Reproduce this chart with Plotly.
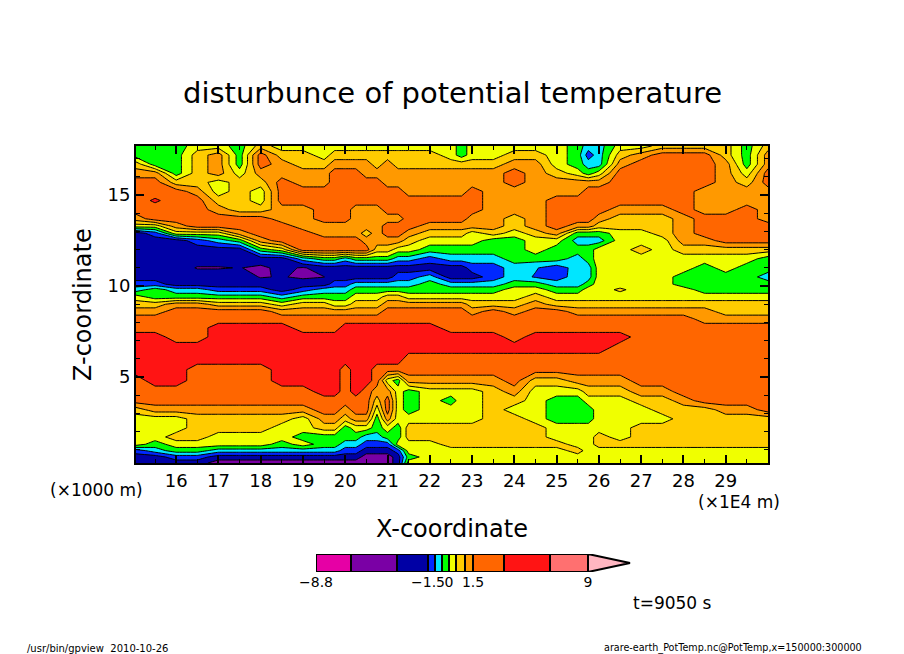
import numpy as np
import plotly.graph_objects as go

# grid: x in 1E4 m, heights in km (top to bottom)
x_nodes = [15.05, 15.5, 16, 16.5, 17, 17.5, 18, 18.5, 19, 19.5, 19.75, 20, 20.25, 20.5, 20.75, 21, 21.25, 21.5,
           22, 22.5, 22.75, 23, 23.5, 24, 24.5, 25, 25.5, 25.75, 26, 26.5, 27, 27.5, 28, 28.5, 29, 29.5, 30]
z_nodes = [17.7, 17.2, 16.7, 16.2, 15.7, 15.2, 14.7, 14.2, 13.7, 13.3,
           12.9, 12.5, 12.0, 11.5, 11.0, 10.5, 10.1, 9.8, 9.4, 9.0,
           8.6, 8.2, 7.7, 7.2, 6.6, 6.0, 5.4, 4.8, 4.2, 3.7,
           3.2, 2.7, 2.2, 1.7, 1.3, 0.95, 0.6, 0.27]

# disturbance of potential temperature (K), one list per x node
col_1505 = [-.25,-.25,.75,1.25,2.25,2.25,2.25,2.25,1.25,.25, -2.25,-2.25,-2.25,-2.25,-2.25,-2.25,-1.25,-.75,.25,.75, 1.25,2.25,2.25,4.5,4.5,4.5,4.5,2.25,2.25,2.25, .75,.25,.25,.25,.25,-1.25,-2.25,-2.25]
col_155 = [-.25,-.25,-.25,1.25,2.25,2.25,3.5,2.25,2.25,.25, -1.25,-2.25,-2.25,-2.25,-2.25,-2.25,-1.25,-.25,-.25,.75, 1.25,2.25,2.25,4.5,4.5,4.5,4.5,4.5,2.25,2.25, 1.25,.25,.25,.25,-.25,-.75,-2.25,-2.25]
col_16 = [-.25,-.25,-.25,-.25,.75,2.25,2.25,2.25,2.25,1.25, .25,-2.25,-2.25,-2.25,-2.25,-2.25,-2.25,-.75,-.25,1.25, 2.25,2.25,2.25,2.25,4.5,4.5,4.5,4.5,2.25,2.25, 1.25,.25,.25,.75,.25,-.25,-1.25,-2.25]
col_165 = [.25,.75,.75,.75,.75,1.25,2.25,2.25,2.25,2.25, .25,-1.25,-2.25,-2.25,-3.2,-2.25,-2.25,-.75,-.25,1.25, 2.25,2.25,2.25,2.25,4.5,4.5,2.25,2.25,2.25,2.25, 1.25,.75,.75,.75,.25,-.25,-1.25,-2.25]
col_17 = [.25,1.25,1.25,1.25,.25,.25,.75,1.25,2.25,2.25, .25,-.75,-2.25,-2.25,-3.2,-2.25,-2.25,-1.25,-.25,.75, 2.25,2.25,4.5,4.5,4.5,4.5,2.25,2.25,2.25,2.25, 1.25,.75,.75,.25,.25,-.75,-2.25,-4.5]
col_175 = [-.25,-.25,-.25,.25,.75,.75,.75,.75,2.25,2.25, 1.25,-.25,-2.25,-2.25,-2.95,-2.25,-2.25,-1.25,-.25,.75, 2.25,2.25,4.5,4.5,4.5,4.5,2.25,2.25,2.25,2.25, 1.25,.75,.75,.25,.25,-.75,-2.25,-4.5]
col_18 = [.75,2.25,2.25,1.25,.75,.25,.25,.75,2.25,2.25, 2.25,1.25,-.25,-2.25,-3.6,-3.2,-2.25,-1.25,-.25,.75, 2.25,2.25,4.5,4.5,4.5,4.5,2.25,2.25,2.25,2.25, 1.25,.75,.75,.25,.25,-.75,-2.25,-4.5]
col_185 = [.25,.75,1.25,1.25,2.25,2.25,2.25,1.25,1.25,2.25, 2.25,2.25,.25,-2.25,-2.6,-2.9,-2.25,-2.25,-.75,.25, 1.25,2.25,4.5,4.5,4.5,4.5,4.5,4.5,2.25,2.25, 1.25,.75,.25,.25,-.25,-.75,-2.25,-4.5]
col_19 = [.25,.75,.75,1.25,1.25,2.25,2.25,1.25,1.25,1.25, 2.25,2.25,2.25,-.75,-3.3,-3.5,-2.25,-1.25,-.25,.75, 1.25,2.25,2.25,4.5,4.5,4.5,4.5,4.5,2.25,2.25, 1.25,.25,.25,-.25,.25,-.75,-2.25,-4.5]
col_195 = [.25,.25,.75,1.25,1.25,2.25,2.25,2.25,2.25,1.25, 1.25,2.25,2.25,-.25,-2.25,-3.05,-2.25,-.75,-.25,.75, 1.25,2.25,2.25,4.5,4.5,4.5,4.5,4.5,4.5,2.25, 2.25,1.25,.75,-.25,-.25,-.75,-2.25,-4.5]
col_1975 = [.25,.75,1.25,2.25,2.25,2.25,2.25,2.25,2.25,1.25, 1.25,2.25,2.25,-.25,-2.25,-2.25,-1.25,-.75,-.25,.25, 1.25,2.25,2.25,4.5,4.5,4.5,4.5,4.5,4.5,2.25, 2.25,1.25,.75,-.25,-.25,-.75,-2.25,-4.5]
col_20 = [.25,.75,1.25,2.25,2.25,2.25,2.25,2.25,2.25,1.25, 1.25,2.25,2.25,-.75,-2.25,-2.25,-1.25,-.75,-.25,.25, 1.25,2.25,4.5,4.5,4.5,4.5,2.25,2.25,2.25,2.25, 1.25,.75,-.25,-.25,-.75,-1.25,-2.25,-4.5]
col_2025 = [.25,.75,1.25,2.25,2.25,2.25,2.25,1.25,1.25,1.25, 1.25,2.25,2.25,-.25,-2.25,-2.25,-.75,-.25,.25,.75, 1.25,2.25,4.5,4.5,4.5,4.5,4.5,4.5,4.5,2.25, 2.25,1.25,.25,-.25,-.75,-1.25,-2.25,-4.5]
col_205 = [.25,.75,1.25,1.25,2.25,2.25,2.25,1.25,1.25,1.25, .75,1.25,2.25,-.25,-2.25,-2.25,-.75,-.25,.25,.75, 1.25,2.25,4.5,4.5,4.5,4.5,4.5,4.5,2.25,2.25, 2.25,1.25,.25,-.75,-1.25,-2.25,-4.5,-4.5]
col_2075 = [.25,.75,.75,1.25,2.25,2.25,2.25,1.25,1.25,1.25, 1.25,1.25,.75,-.25,-2.25,-2.25,-.75,-.25,.25,.75, 1.25,2.25,4.5,4.5,4.5,4.5,2.25,2.25,1.25,.75, .25,-.25,-.25,-.75,-1.25,-2.25,-4.5,-4.5]
col_21 = [.25,.75,1.25,1.25,1.25,2.25,2.25,2.25,1.25,2.25, 2.25,1.25,.75,-.25,-2.25,-2.25,-.75,-.25,.75,1.25, 2.25,2.25,4.5,4.5,4.5,4.5,2.25,.25,1.25,2.25, 2.25,1.25,.25,-.25,-1.25,-2.25,-4.5,-4.5]
col_2125 = [.25,.75,.75,1.25,1.25,2.25,2.25,2.25,1.25,2.25, 2.25,1.25,.25,-.75,-2.25,-1.25,-.75,-.25,.75,1.25, 2.25,2.25,4.5,4.5,4.5,4.5,2.25,-.25,.25,.25, .25,.25,-.25,-.25,.25,-1.25,-2.25,-2.25]
col_215 = [.25,.75,.75,1.25,1.25,1.25,2.25,2.25,2.25,2.25, 1.25,.75,.25,-.75,-2.25,-1.25,-.75,-.25,.25,1.25, 2.25,2.25,4.5,4.5,4.5,2.25,2.25,1.25,-.25,-.25, -.25,.25,.75,.75,.25,.25,-.25,.25]
col_22 = [.25,.75,.75,1.25,1.25,1.25,2.25,2.25,2.25,1.25, .75,.25,-.25,-1.25,-2.25,-.75,-.25,-.25,.25,1.25, 2.25,2.25,4.5,4.5,4.5,2.25,2.25,1.25,.25,.25, .25,.25,.75,.75,.25,.25,.25,.25]
col_225 = [.25,.25,.75,1.25,1.25,1.25,2.25,2.25,2.25,1.25, .75,.25,-.25,-.75,-2.25,-2.25,-.75,-.25,.25,1.25, 2.25,2.25,2.25,4.5,4.5,2.25,2.25,1.25,.25,-.25, .25,.25,.75,.75,.75,.25,.25,.25]
col_2275 = [-.25,-.25,.75,1.25,1.25,1.25,2.25,2.25,2.25,1.25, .75,.25,-.25,-.75,-2.25,-2.25,-.75,-.25,.25,1.25, 2.25,2.25,2.25,4.5,4.5,2.25,2.25,1.25,.25,.25, .25,.25,.75,.75,.75,.25,.25,.25]
col_23 = [.25,.25,.75,1.25,1.25,2.25,2.25,2.25,1.25,1.25, .25,.25,-.25,-.75,-1.25,-2.25,-.75,-.25,.25,.75, 1.25,2.25,2.25,4.5,4.5,2.25,2.25,1.25,.25,.25, .25,.25,.75,.75,.75,.25,.25,.25]
col_235 = [.25,.25,.75,1.25,1.25,1.25,1.25,1.25,1.25,1.25, .75,-.25,-.25,-.75,-1.25,-1.25,-.75,-.25,.25,.75, 2.25,2.25,2.25,4.5,4.5,2.25,2.25,1.25,.75,.75, .75,.75,.75,.75,.75,.25,.25,.25]
col_24 = [.25,.75,1.25,2.25,2.25,1.25,1.25,1.25,.75,.75, .25,-.25,-.25,-.25,-.75,-.75,-.25,.25,.25,.75, 1.25,2.25,2.25,2.25,4.5,2.25,2.25,2.25,1.25,.75, .25,.75,.75,.75,.75,.25,.25,.25]
col_245 = [.25,.75,1.25,1.25,1.25,1.25,1.25,1.25,1.25,1.25, .75,.25,.25,-.25,-.95,-1.05,-.25,.25,.75,1.25, 2.25,2.25,2.25,4.5,4.5,2.25,2.25,.75,.25,.25, .25,.25,.75,.75,.75,.25,.25,.25]
col_25 = [.25,.25,.25,.75,1.25,1.25,2.25,2.25,2.25,2.25, 1.25,.25,-.25,-.25,-1.3,-1.25,-.75,-.25,.25,.75, 2.25,2.25,2.25,4.5,4.5,2.25,2.25,.75,.25,-.25, -.25,-.25,.25,.25,.75,.25,.25,.25]
col_255 = [-.25,-.25,-.25,.25,1.25,1.25,2.25,2.25,2.25,1.25, -.25,-.75,-.25,-.75,-.75,-.75,-.75,-.25,.25,.75, 1.25,2.25,2.25,4.5,4.5,2.25,2.25,1.25,.25,-.25, -.25,-.25,.25,.25,.25,.75,.25,.25]
col_2575 = [-.75,-1.25,-.75,-.25,1.25,2.25,2.25,2.25,2.25,1.25, -.25,-.75,-.25,-.25,-.75,-.75,-.25,.25,.25,.75, 1.25,2.25,2.25,4.5,4.5,2.25,2.25,1.25,.75,.25, -.25,-.25,.25,.25,.25,.25,.25,.25]
col_26 = [-.75,-.75,-.75,.25,1.25,2.25,2.25,2.25,1.25,.75, -.25,-.75,.25,.25,.25,.25,.25,.25,.25,.75, 1.25,2.25,2.25,4.5,4.5,2.25,2.25,1.25,.75,.25, .25,.25,.25,.75,.75,.25,.25,.25]
col_265 = [.25,.75,1.25,2.25,2.25,2.25,2.25,1.25,.75,.75, .25,.25,.25,.25,.25,.25,.25,.6,.25,.75, 1.25,2.25,2.25,4.5,2.25,2.25,2.25,1.25,.75,.25, .25,.25,.25,.25,.75,.25,.25,.25]
col_27 = [.25,1.25,2.25,2.25,2.25,2.25,2.25,1.25,.75,.75, .25,.25,.75,.25,.25,.25,.25,.25,.25,.75, 1.25,2.25,2.25,2.25,2.25,2.25,2.25,2.25,1.25,.75, .25,.25,.75,.75,.75,.25,.25,.25]
col_275 = [.75,2.25,2.25,2.25,2.25,2.25,2.25,1.25,.75,.75, .75,.25,.25,.25,.25,.25,.25,.25,.25,.75, 1.25,2.25,2.25,2.25,2.25,2.25,2.25,2.25,1.25,.75, .75,.25,.75,.75,.75,.25,.25,.25]
col_28 = [.75,2.25,2.25,2.25,2.25,2.25,2.25,2.25,1.25,1.25, 1.25,1.25,.75,.25,.25,-.25,-.25,.25,.25,.75, 1.25,2.25,2.25,2.25,2.25,2.25,2.25,2.25,2.25,1.25, .75,.75,.75,.75,.75,.25,.25,.25]
col_285 = [.75,2.25,2.25,2.25,2.25,1.25,1.25,1.25,2.25,2.25, 2.25,1.25,.75,.25,-.25,-.25,-.25,-.25,.25,.75, 1.25,1.25,2.25,2.25,2.25,2.25,2.25,2.25,2.25,2.25, .75,.75,.75,.75,.75,.25,.25,.25]
col_29 = [.75,.75,1.25,1.25,1.25,1.25,1.25,1.25,2.25,2.25, 2.25,2.25,.75,.25,.25,-.25,-.25,-.25,.25,.75, .75,1.25,2.25,2.25,2.25,2.25,2.25,2.25,2.25,2.25, 1.25,.75,.75,.75,.75,.25,.25,.25]
col_295 = [-.25,-.25,-.25,.25,.75,1.25,1.25,2.25,2.25,2.25, 2.25,2.25,.75,.25,-.25,-.25,-.25,-.25,.25,.75, .75,1.25,2.25,2.25,2.25,2.25,2.25,2.25,2.25,2.25, 1.25,.75,.75,.75,.75,.25,.25,.25]
col_30 = [.75,1.25,1.25,2.25,2.25,1.25,1.25,1.25,1.25,2.25, 2.25,2.25,.75,-.25,-.25,-.75,-.25,-.25,.25,.75, .75,1.25,2.25,2.25,2.25,2.25,2.25,2.25,2.25,2.25, 2.25,.75,.75,.75,.75,.25,.25,.25]

columns = [col_1505, col_155, col_16, col_165, col_17, col_175, col_18, col_185, col_19, col_195, col_1975,
           col_20, col_2025, col_205, col_2075, col_21, col_2125, col_215, col_22, col_225, col_2275, col_23, col_235,
           col_24, col_245, col_25, col_255, col_2575, col_26, col_265, col_27, col_275, col_28,
           col_285, col_29, col_295, col_30]

levels = [-8.8, -6, -3, -1.5, -1, -0.5, 0, 0.5, 1, 1.5, 3, 6, 9]
level_colors = ["#E600A5", "#7A00A5", "#0000A5", "#0028FF", "#00E6FF", "#00FF00",
                "#F0FF00", "#FFCC00", "#FF9900", "#FF6600", "#FF1414", "#FF7070"]
over_color = "#FFB6C1"
# widths of the colour bar cells, gpview spaces them unevenly
cell_widths = [35, 46, 31, 7, 7, 7, 7, 9, 8, 31, 46, 38]
bar_ticks = {"\u22128.8": -8.8, "\u22121.5": -1.5, "0": 0, "1.5": 1.5, "9": 9}

W, H = 904, 654
FONT = "DejaVu Sans"

theta = np.array(columns).T[::-1]
heights = z_nodes[::-1]
# levels are not evenly spaced, so contour in level number
theta_idx = np.interp(theta, levels, np.arange(len(levels)))

colorscale = []
n = len(level_colors)
for i, c in enumerate(level_colors):
    colorscale += [[i / n, c], [(i + 1) / n, c]]

fig = go.Figure()
fig.add_trace(go.Contour(x=x_nodes, y=heights, z=theta_idx, zmin=0, zmax=n,
                         colorscale=colorscale, showscale=False, hoverinfo="skip",
                         autocontour=False,
                         contours=dict(start=0, end=n, size=1, coloring="fill"),
                         line=dict(color="black", width=1, smoothing=0)))

# colour bar drawn as stacked cells on its own axes
edges = np.concatenate([[0], np.cumsum(cell_widths)])
fig.add_trace(go.Bar(x=cell_widths, y=[0] * n, base=edges[:-1], orientation="h", width=1,
                     marker=dict(color=level_colors, line=dict(color="black", width=2)),
                     xaxis="x2", yaxis="y2", hoverinfo="skip", showlegend=False))
tip = edges[-1] + 42
fig.add_trace(go.Scatter(x=[edges[-1], tip, edges[-1], edges[-1]], y=[0.5, 0, -0.5, 0.5],
                         mode="lines", fill="toself", fillcolor=over_color,
                         line=dict(color="black", width=2),
                         xaxis="x2", yaxis="y2", hoverinfo="skip", showlegend=False))

fig.update_layout(
    width=W, height=H, autosize=False, showlegend=False,
    margin=dict(l=0, r=0, t=0, b=0, autoexpand=False),
    paper_bgcolor="white", plot_bgcolor="white",
    font=dict(family=FONT, color="black"),
    xaxis=dict(domain=[136 / W, 768 / W], range=[15.05, 30], anchor="y",
               tickmode="array", tickvals=list(range(16, 30)), ticks="inside", ticklen=8, tickwidth=2,
               tickcolor="black", mirror="allticks", showline=True, linewidth=2, linecolor="black",
               showgrid=False, zeroline=False, tickfont=dict(size=18), tickangle=0,
               minor=dict(dtick=0.5, tick0=15, ticks="inside", ticklen=4, tickwidth=1, tickcolor="black", showgrid=False)),
    yaxis=dict(domain=[1 - 463 / H, 1 - 146 / H], range=[0.27, 17.7], anchor="x",
               tickmode="array", tickvals=[5, 10, 15], ticks="inside", ticklen=8, tickwidth=2,
               tickcolor="black", mirror="allticks", showline=True, linewidth=2, linecolor="black",
               showgrid=False, zeroline=False, tickfont=dict(size=18),
               minor=dict(dtick=1, tick0=0, ticks="inside", ticklen=4, tickwidth=1, tickcolor="black", showgrid=False)),
    xaxis2=dict(domain=[316 / W, 640 / W], range=[0, 324], anchor="y2", showgrid=False, zeroline=False,
                showline=False, ticks="", tickangle=0, tickfont=dict(size=14),
                tickmode="array", ticktext=list(bar_ticks),
                tickvals=[float(np.interp(v, levels, edges)) for v in bar_ticks.values()]),
    yaxis2=dict(domain=[1 - 572 / H, 1 - 554 / H], range=[-0.5, 0.5], anchor="x2", showgrid=False,
                zeroline=False, showticklabels=False, ticks="", showline=False),
)


def label(text, px, py, size, angle=0, anchor="center"):
    fig.add_annotation(text=text, x=px / W, y=1 - py / H, xref="paper", yref="paper", showarrow=False,
                       font=dict(size=size, family=FONT, color="black"), textangle=angle,
                       xanchor=anchor, yanchor="middle")


label("disturbunce of potential temperature", 452, 93, 29)
label("X-coordinate", 452, 529, 24)
label("Z-coordinate", 83, 305, 24, angle=-90)
label("(\u00d71000 m)", 96, 490, 17)
label("(\u00d71E4 m)", 739, 502, 17)
label("t=9050 s", 672, 603, 17)
label("/usr/bin/gpview\u00a0\u00a02010-10-26", 25, 648, 10, anchor="left")
label("arare-earth_PotTemp.nc@PotTemp,x=150000:300000", 864, 648, 9.6, anchor="right")

fig.write_html("out.html", config={"displayModeBar": False}, post_script="document.body.style.margin='0';")
